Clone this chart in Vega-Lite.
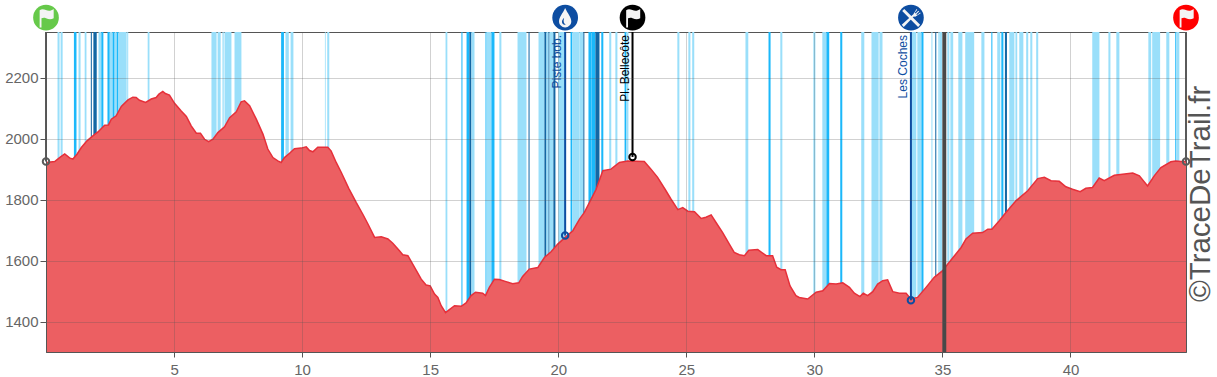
{"$schema":"https://vega.github.io/schema/vega-lite/v6.json","width":1140,"height":320,"autosize":"none","padding":{"left":46,"top":32,"right":31,"bottom":25},"background":"white","view":{"stroke":"#555","strokeWidth":1},
"config":{"font":"Liberation Sans","axis":{"labelFontSize":14,"labelFont":"Liberation Sans"}},
"datasets":{
"profile":[{"km":0.01,"ele":1922},{"km":0.34,"ele":1925},{"km":0.53,"ele":1938},{"km":0.73,"ele":1950},{"km":0.92,"ele":1937},{"km":1.05,"ele":1933},{"km":1.21,"ele":1949},{"km":1.38,"ele":1971},{"km":1.6,"ele":1993},{"km":1.83,"ele":2009},{"km":2.03,"ele":2022},{"km":2.29,"ele":2044},{"km":2.44,"ele":2045},{"km":2.55,"ele":2064},{"km":2.74,"ele":2075},{"km":2.94,"ele":2106},{"km":3.2,"ele":2127},{"km":3.39,"ele":2136},{"km":3.52,"ele":2135},{"km":3.65,"ele":2126},{"km":3.89,"ele":2119},{"km":4.11,"ele":2130},{"km":4.3,"ele":2135},{"km":4.41,"ele":2146},{"km":4.56,"ele":2155},{"km":4.66,"ele":2148},{"km":4.82,"ele":2143},{"km":5.02,"ele":2116},{"km":5.28,"ele":2091},{"km":5.48,"ele":2073},{"km":5.67,"ele":2042},{"km":5.87,"ele":2018},{"km":6.03,"ele":2018},{"km":6.19,"ele":1998},{"km":6.35,"ele":1990},{"km":6.52,"ele":1998},{"km":6.71,"ele":2020},{"km":6.97,"ele":2039},{"km":7.17,"ele":2069},{"km":7.43,"ele":2088},{"km":7.62,"ele":2121},{"km":7.75,"ele":2124},{"km":7.95,"ele":2108},{"km":8.21,"ele":2064},{"km":8.47,"ele":2015},{"km":8.66,"ele":1966},{"km":8.86,"ele":1938},{"km":9.05,"ele":1927},{"km":9.18,"ele":1922},{"km":9.31,"ele":1938},{"km":9.51,"ele":1952},{"km":9.7,"ele":1967},{"km":9.96,"ele":1969},{"km":10.16,"ele":1973},{"km":10.29,"ele":1961},{"km":10.42,"ele":1957},{"km":10.61,"ele":1972},{"km":11,"ele":1972},{"km":11.13,"ele":1960},{"km":11.33,"ele":1922},{"km":11.53,"ele":1889},{"km":11.82,"ele":1837},{"km":12.11,"ele":1791},{"km":12.37,"ele":1752},{"km":12.57,"ele":1720},{"km":12.83,"ele":1676},{"km":13.09,"ele":1678},{"km":13.35,"ele":1671},{"km":13.54,"ele":1657},{"km":13.8,"ele":1632},{"km":13.93,"ele":1619},{"km":14.13,"ele":1616},{"km":14.39,"ele":1578},{"km":14.65,"ele":1539},{"km":14.84,"ele":1520},{"km":15,"ele":1517},{"km":15.17,"ele":1490},{"km":15.3,"ele":1479},{"km":15.43,"ele":1452},{"km":15.6,"ele":1429},{"km":15.75,"ele":1439},{"km":15.95,"ele":1452},{"km":16.21,"ele":1450},{"km":16.4,"ele":1461},{"km":16.6,"ele":1485},{"km":16.77,"ele":1496},{"km":17.05,"ele":1493},{"km":17.16,"ele":1485},{"km":17.31,"ele":1512},{"km":17.51,"ele":1539},{"km":17.7,"ele":1538},{"km":17.96,"ele":1531},{"km":18.22,"ele":1524},{"km":18.46,"ele":1527},{"km":18.61,"ele":1548},{"km":18.87,"ele":1572},{"km":19.2,"ele":1577},{"km":19.46,"ele":1610},{"km":19.72,"ele":1629},{"km":19.98,"ele":1654},{"km":20.27,"ele":1676},{"km":20.57,"ele":1698},{"km":20.83,"ele":1736},{"km":21.02,"ele":1758},{"km":21.22,"ele":1791},{"km":21.48,"ele":1834},{"km":21.74,"ele":1895},{"km":22.06,"ele":1900},{"km":22.39,"ele":1922},{"km":22.71,"ele":1927},{"km":23.36,"ele":1925},{"km":23.62,"ele":1900},{"km":23.88,"ele":1873},{"km":24.17,"ele":1834},{"km":24.4,"ele":1802},{"km":24.67,"ele":1767},{"km":24.86,"ele":1774},{"km":25.06,"ele":1762},{"km":25.32,"ele":1760},{"km":25.58,"ele":1738},{"km":25.77,"ele":1742},{"km":25.97,"ele":1750},{"km":26.16,"ele":1725},{"km":26.42,"ele":1692},{"km":26.68,"ele":1654},{"km":26.87,"ele":1627},{"km":27.07,"ele":1619},{"km":27.27,"ele":1616},{"km":27.44,"ele":1634},{"km":27.79,"ele":1636},{"km":28.12,"ele":1616},{"km":28.37,"ele":1616},{"km":28.53,"ele":1578},{"km":28.7,"ele":1570},{"km":28.86,"ele":1570},{"km":29.05,"ele":1517},{"km":29.28,"ele":1485},{"km":29.41,"ele":1479},{"km":29.74,"ele":1474},{"km":30.07,"ele":1496},{"km":30.33,"ele":1501},{"km":30.59,"ele":1525},{"km":30.85,"ele":1523},{"km":31.11,"ele":1527},{"km":31.37,"ele":1512},{"km":31.56,"ele":1493},{"km":31.78,"ele":1482},{"km":31.91,"ele":1493},{"km":32.08,"ele":1485},{"km":32.28,"ele":1498},{"km":32.47,"ele":1523},{"km":32.67,"ele":1534},{"km":32.86,"ele":1537},{"km":33.06,"ele":1498},{"km":33.32,"ele":1493},{"km":33.58,"ele":1493},{"km":33.77,"ele":1474},{"km":34.03,"ele":1479},{"km":34.36,"ele":1512},{"km":34.68,"ele":1545},{"km":35.01,"ele":1567},{"km":35.21,"ele":1589},{"km":35.47,"ele":1616},{"km":35.73,"ele":1643},{"km":35.92,"ele":1671},{"km":36.18,"ele":1690},{"km":36.57,"ele":1692},{"km":36.77,"ele":1703},{"km":36.93,"ele":1703},{"km":37.22,"ele":1731},{"km":37.48,"ele":1758},{"km":37.87,"ele":1796},{"km":38.33,"ele":1829},{"km":38.72,"ele":1869},{"km":38.98,"ele":1873},{"km":39.24,"ele":1862},{"km":39.56,"ele":1860},{"km":39.82,"ele":1842},{"km":40.08,"ele":1834},{"km":40.38,"ele":1826},{"km":40.6,"ele":1837},{"km":40.86,"ele":1840},{"km":41.12,"ele":1871},{"km":41.32,"ele":1862},{"km":41.71,"ele":1880},{"km":42.43,"ele":1887},{"km":42.69,"ele":1878},{"km":43.01,"ele":1845},{"km":43.27,"ele":1878},{"km":43.53,"ele":1905},{"km":43.92,"ele":1924},{"km":44.11,"ele":1927},{"km":44.31,"ele":1925},{"km":44.51,"ele":1925}],
"stripes":[{"kind":"l","from":0.45,"to":0.53},{"kind":"l","from":0.57,"to":0.65},{"kind":"m","from":1.09,"to":1.19},{"kind":"l","from":1.27,"to":1.35},{"kind":"l","from":1.51,"to":1.58},{"kind":"d","from":1.75,"to":1.79},{"kind":"d","from":1.85,"to":1.98},{"kind":"l","from":2.05,"to":2.16},{"kind":"m","from":2.16,"to":2.24},{"kind":"m","from":2.4,"to":2.49},{"kind":"l","from":2.49,"to":2.6},{"kind":"m","from":2.6,"to":2.68},{"kind":"l","from":2.68,"to":2.76},{"kind":"m","from":2.76,"to":2.83},{"kind":"l","from":2.83,"to":3.15},{"kind":"l","from":3.17,"to":3.21},{"kind":"l","from":3.97,"to":4.04},{"kind":"l","from":6.46,"to":6.66},{"kind":"l","from":6.7,"to":6.82},{"kind":"l","from":6.89,"to":6.94},{"kind":"l","from":6.97,"to":7.24},{"kind":"l","from":7.36,"to":7.63},{"kind":"m","from":9.18,"to":9.29},{"kind":"l","from":9.35,"to":9.48},{"kind":"l","from":9.55,"to":9.66},{"kind":"l","from":10.89,"to":10.92},{"kind":"l","from":10.98,"to":11.06},{"kind":"l","from":15.6,"to":15.67},{"kind":"m","from":16.22,"to":16.26},{"kind":"m","from":16.42,"to":16.53},{"kind":"d","from":16.53,"to":16.61},{"kind":"l","from":16.61,"to":16.73},{"kind":"m","from":17.16,"to":17.2},{"kind":"l","from":17.2,"to":17.39},{"kind":"m","from":17.39,"to":17.51},{"kind":"l","from":17.7,"to":17.78},{"kind":"l","from":18.41,"to":18.76},{"kind":"d","from":18.84,"to":18.88},{"kind":"l","from":19.23,"to":19.46},{"kind":"d","from":19.46,"to":19.54},{"kind":"l","from":19.54,"to":19.62},{"kind":"d","from":19.62,"to":19.66},{"kind":"l","from":19.66,"to":19.81},{"kind":"d","from":19.81,"to":19.89},{"kind":"l","from":20,"to":20.28},{"kind":"m","from":20.48,"to":20.55},{"kind":"l","from":20.55,"to":20.83},{"kind":"l","from":20.83,"to":20.98},{"kind":"d","from":20.98,"to":21.02},{"kind":"m","from":21.18,"to":21.3},{"kind":"m","from":21.3,"to":21.45},{"kind":"d","from":21.45,"to":21.61},{"kind":"m","from":21.68,"to":21.76},{"kind":"l","from":21.99,"to":22.07},{"kind":"l","from":22.23,"to":22.31},{"kind":"m","from":22.59,"to":22.66},{"kind":"l","from":22.66,"to":22.74},{"kind":"l","from":24.65,"to":24.73},{"kind":"l","from":25.08,"to":25.16},{"kind":"l","from":25.23,"to":25.31},{"kind":"l","from":27.31,"to":27.42},{"kind":"m","from":28.21,"to":28.29},{"kind":"l","from":28.67,"to":28.75},{"kind":"l","from":29.96,"to":30.04},{"kind":"l","from":30.31,"to":30.47},{"kind":"m","from":30.47,"to":30.58},{"kind":"m","from":31.01,"to":31.09},{"kind":"l","from":31.83,"to":31.95},{"kind":"l","from":32.23,"to":32.51},{"kind":"l","from":32.54,"to":32.66},{"kind":"l","from":33.79,"to":33.98},{"kind":"l","from":34.02,"to":34.18},{"kind":"m","from":34.18,"to":34.26},{"kind":"l","from":34.57,"to":34.61},{"kind":"d","from":34.72,"to":34.76},{"kind":"l","from":34.84,"to":34.88},{"kind":"l","from":34.88,"to":34.99},{"kind":"l","from":35.19,"to":35.27},{"kind":"l","from":35.31,"to":35.42},{"kind":"l","from":35.62,"to":35.78},{"kind":"l","from":35.89,"to":36.24},{"kind":"l","from":36.52,"to":36.64},{"kind":"m","from":36.91,"to":36.95},{"kind":"l","from":37.14,"to":37.26},{"kind":"m","from":37.3,"to":37.38},{"kind":"d","from":37.44,"to":37.52},{"kind":"l","from":37.61,"to":37.81},{"kind":"l","from":37.85,"to":37.92},{"kind":"l","from":38,"to":38.16},{"kind":"l","from":38.27,"to":38.35},{"kind":"l","from":38.43,"to":38.51},{"kind":"l","from":38.66,"to":38.74},{"kind":"l","from":40.85,"to":41.13},{"kind":"l","from":41.48,"to":41.56},{"kind":"l","from":41.79,"to":41.91},{"kind":"l","from":43.04,"to":43.15},{"kind":"l","from":43.19,"to":43.5},{"kind":"l","from":43.74,"to":43.86},{"kind":"m","from":44.09,"to":44.13},{"kind":"l","from":44.13,"to":44.25}],
"stops":[{"km":0,"ele":1925,"top":2397,"type":"start","icon":"flag","label":""},{"km":20.27,"ele":1682,"top":2397,"type":"water","icon":"drop","label":"Piste bob."},{"km":22.9,"ele":1940,"top":2397,"type":"summit","icon":"flag","label":"Pl. Bellecôte"},{"km":33.77,"ele":1470,"top":2397,"type":"food","icon":"food","label":"Les Coches"},{"km":44.51,"ele":1925,"top":2397,"type":"finish","icon":"flag","label":""}]
},
"resolve":{"scale":{"fill":"independent","stroke":"independent"}},
"layer":[
{"data":{"name":"stripes"},"mark":{"type":"rect","stroke":null,"opacity":1},
 "encoding":{"x":{"field":"from","type":"quantitative","scale":{"domain":[0,44.51],"nice":false,"zero":false},"axis":{"values":[5,10,15,20,25,30,35,40],"title":null,"grid":true,"gridColor":"#555","gridOpacity":0.27,"domain":true,"domainColor":"#555","tickColor":"#555","tickSize":5,"labelFont":"Liberation Sans","labelFontSize":15,"labelColor":"#666","labelPadding":5,"zindex":1}},"x2":{"field":"to"},
 "y":{"datum":1300,"type":"quantitative","scale":{"domain":[1300,2350],"nice":false,"zero":false},"axis":{"values":[1400,1600,1800,2000,2200],"format":"d","title":null,"grid":true,"gridColor":"#555","gridOpacity":0.27,"domain":true,"domainColor":"#555","tickColor":"#555","tickSize":6,"labelFont":"Liberation Sans","labelFontSize":15,"labelColor":"#666","labelPadding":2,"zindex":1}},"y2":{"datum":2350},
 "fill":{"field":"kind","type":"nominal","legend":null,"scale":{"domain":["l","m","d"],"range":["#9adffa","#1bb8fa","#1367a4"]}}}},
{"data":{"name":"profile"},"mark":{"type":"area","color":"#ec5f62","opacity":1,"line":{"color":"#e6303a","strokeWidth":1.5}},"encoding":{"x":{"field":"km","type":"quantitative"},"y":{"field":"ele","type":"quantitative"},"y2":{"datum":1300}}},
{"data":{"values":[{"a":35,"b":35.15}]},"mark":{"type":"rect","color":"#484848","opacity":1},"encoding":{"x":{"field":"a","type":"quantitative"},"x2":{"field":"b"}}},
{"data":{"name":"stops"},"mark":{"type":"rule","strokeWidth":2},"encoding":{"x":{"field":"km","type":"quantitative"},"y":{"field":"ele","type":"quantitative"},"y2":{"datum":2350},"stroke":{"field":"type","type":"nominal","legend":null,"scale":{"domain":["start","water","summit","food","finish"],"range":["#5a5a5a","#0d4da1","#000000","#0d4da1","#5a5a5a"]}}}},
{"data":{"name":"stops"},"mark":{"type":"point","shape":"circle","filled":false,"size":42,"strokeWidth":2,"opacity":1},"encoding":{"x":{"field":"km","type":"quantitative"},"y":{"field":"ele","type":"quantitative"},"stroke":{"field":"type","type":"nominal","legend":null,"scale":{"domain":["start","water","summit","food","finish"],"range":["#5a5a5a","#0d4da1","#000000","#0d4da1","#5a5a5a"]}}}},
{"data":{"name":"stops"},"mark":{"type":"text","angle":270,"align":"right","baseline":"bottom","font":"Liberation Sans","fontSize":12,"dx":-3,"dy":-1},"encoding":{"x":{"field":"km","type":"quantitative"},"y":{"datum":2350},"text":{"field":"label"},"fill":{"field":"type","type":"nominal","legend":null,"scale":{"domain":["water","summit","food"],"range":["#0d4da1","#000000","#0d4da1"]}}}},
{"data":{"name":"stops"},"mark":{"type":"point","shape":"circle","filled":true,"size":660,"opacity":1,"clip":false},"encoding":{"x":{"field":"km","type":"quantitative"},"y":{"field":"top","type":"quantitative"},"fill":{"field":"type","type":"nominal","legend":null,"scale":{"domain":["start","water","summit","food","finish"],"range":["#66c94a","#0d4da1","#000000","#0d4da1","#ff0000"]}}}},
{"data":{"name":"stops"},"mark":{"type":"point","filled":true,"size":420,"opacity":1,"color":"#f4f4f4"},"encoding":{"x":{"field":"km","type":"quantitative"},"y":{"field":"top","type":"quantitative"},"shape":{"field":"icon","type":"nominal","legend":null,"scale":{"domain":["flag","drop","food"],"range":["M-0.62 0.95 L-0.62 -0.72 C-0.3 -0.95 0 -0.68 0.3 -0.68 C0.45 -0.68 0.6 -0.74 0.75 -0.85 L0.75 0.05 C0.5 0.2 0.3 0.2 0 0.05 C-0.15 -0.02 -0.3 0 -0.44 0.05 L-0.44 0.95 Z","M0 -0.95 C0.25 -0.4 0.6 -0.05 0.6 0.35 A0.6 0.6 0 0 1 -0.6 0.35 C-0.6 -0.05 -0.25 -0.4 0 -0.95 Z M-0.1 0 C-0.3 0.2 -0.38 0.4 -0.25 0.6 C-0.15 0.72 0 0.72 0.05 0.66 C-0.15 0.55 -0.2 0.35 -0.1 0 Z","M-0.85 -0.65 L-0.65 -0.85 L0.9 0.7 L0.7 0.9 Z M0.22 -0.32 L0.55 -0.85 L0.62 -0.78 L0.38 -0.48 L0.46 -0.4 L0.72 -0.68 L0.8 -0.6 L0.52 -0.34 L0.6 -0.26 L0.9 -0.5 L0.95 -0.42 L0.42 -0.08 L0.28 -0.12 L-0.7 0.9 L-0.9 0.7 L0.15 -0.25 Z"]}}}},
{"data":{"values":[{"km":45.46,"ele":1464,"t":"©TraceDeTrail.fr"}]},"mark":{"type":"text","angle":270,"align":"left","baseline":"alphabetic","font":"Liberation Sans","fontSize":29.5,"color":"#555"},"encoding":{"x":{"field":"km","type":"quantitative"},"y":{"field":"ele","type":"quantitative"},"text":{"field":"t"}}}
]}
